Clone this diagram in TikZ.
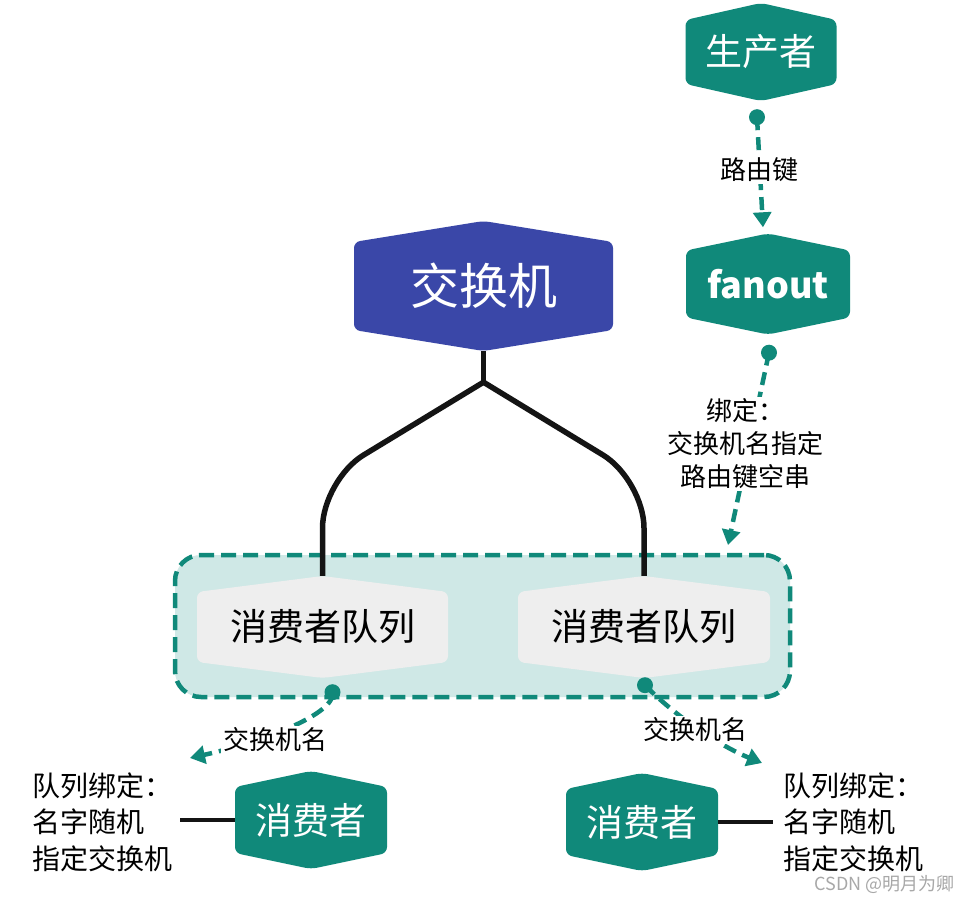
\documentclass[tikz,border=0pt]{standalone}
\usepackage{fontspec}
\setmainfont{Noto Sans CJK SC}
\usetikzlibrary{arrows.meta,calc}
\definecolor{tealc}{HTML}{10897A}
\definecolor{grpfill}{HTML}{CFE8E6}
\definecolor{qfill}{HTML}{EEEEEE}
\definecolor{exblue}{HTML}{3A47A8}
\definecolor{wmgray}{HTML}{A8A8A8}
\newcommand\hexfill[6]{%
  \fill[#6, rounded corners=6pt] ({#1-#3},{#2-#4}) -- (#1,{#2-#4-#5}) -- ({#1+#3},{#2-#4}) -- ({#1+#3},{#2+#4}) -- (#1,{#2+#4+#5}) -- ({#1-#3},{#2+#4}) -- cycle;}
\newcommand\hexnode[9]{%
  \hexfill{#2}{#3}{#4}{#5}{#6}{#7}%
  \node[#8, minimum width={2*#4}, minimum height={2*(#5+#6)}] (#1) at (#2,#3) {#9};}
\tikzset{
  hexlbl/.style={inner sep=0pt, text=white, font=\fontsize{37}{44}\selectfont},
  exlbl/.style={inner sep=0pt, text=white, font=\fontsize{49}{58}\selectfont},
  fanlbl/.style={inner sep=0pt, text=white, font=\bfseries\fontsize{36}{44}\selectfont},
  qlbl/.style={inner sep=0pt, text=black, font=\fontsize{37}{44}\selectfont},
  grpbox/.style={draw=tealc, fill=grpfill, line width=4.5pt, dash pattern=on 15pt off 7pt, rounded corners=26pt},
  dasharrow/.style={draw=tealc, line width=4.5pt, dash pattern=on 13pt off 7pt, -{Triangle[length=15pt,width=18pt]}},
  dotc/.style={fill=tealc},
  lbl/.style={fill=white, inner sep=2pt, text=black, font=\fontsize{26}{33}\selectfont, align=center},
  blackline/.style={draw=black!92, line width=5.5pt},
  sideline/.style={draw=black!92, line width=4.5pt},
  sidetxt/.style={inner sep=0pt, text=black, font=\fontsize{28}{36.5}\selectfont, align=left},
}
\begin{document}
\begin{tikzpicture}[x=1pt, y=-1pt]
\useasboundingbox (0,0) rectangle (970,901);
\fill[white] (0,0) rectangle (970,901);

% top nodes
\hexnode{prod}{761}{52}{75.5}{32}{17}{tealc}{hexlbl}{生产者}
\hexnode{fan}{768}{284}{82}{33.5}{17}{tealc}{fanlbl}{fanout}
\hexnode{exch}{483.5}{286}{129.5}{44}{21}{exblue}{exlbl}{交换机}

% group container
\node[grpbox, minimum width=615pt, minimum height=142pt] (grp) at (482.5,626) {};

% queues
\hexnode{q1}{322.5}{627}{125.5}{35}{16}{qfill}{qlbl}{消费者队列}
\hexnode{q2}{644}{627}{126}{35}{16}{qfill}{qlbl}{消费者队列}

% consumers
\hexnode{c1}{311}{820}{76}{33}{16}{tealc}{hexlbl}{消费者}
\hexnode{c2}{642}{822}{76}{33}{16}{tealc}{hexlbl}{消费者}

% exchange to queues
\coordinate (fork) at ($(exch.south)+(0,31)$);
\coordinate (bendL) at (322.5,480);
\coordinate (bendR) at (644,480);
\draw[blackline] (exch.south) -- (fork);
\draw[blackline, rounded corners=48pt] (fork) -- (bendL) -- (q1.north);
\draw[blackline, rounded corners=48pt] (fork) -- (bendR) -- (q2.north);

% producer -> fanout
\coordinate (d1) at ($(prod.south)+(-4,16)$);
\coordinate (t1) at ($(fan.north)+(-5,-6)$);
\draw[dasharrow] (d1) -- node[lbl, pos=0.48] (rk) {路由键} (t1);
\fill[dotc] (d1) circle (8pt);

% fanout -> group
\coordinate (d2) at ($(fan.south)+(1,18)$);
\coordinate (t2) at (728,545);
\draw[dasharrow] (d2) -- (t2);
\node[lbl] (bind) at (745,444) {绑定：\\交换机名指定\\路由键空串};
\fill[dotc] (d2) circle (8pt);

% queue1 -> left text
\coordinate (d3) at ($(q1.south)+(10,14)$);
\coordinate (t3) at (190,758);
\draw[dasharrow] (d3) .. controls (336,714) and (262,742) .. (t3);
\node[lbl] (en1) at (275,740) {交换机名};
\fill[dotc] (d3) circle (8pt);

% queue2 -> right text
\coordinate (d4) at ($(q2.south)+(1,7)$);
\coordinate (t4) at (762,763);
\draw[dasharrow] (d4) .. controls (675,716) and (720,746) .. (t4);
\node[lbl] (en2) at (695,730) {交换机名};
\fill[dotc] (d4) circle (8pt);

% side texts
\node[sidetxt, anchor=west] (s1) at (32,822) {队列绑定：\\名字随机\\指定交换机};
\node[sidetxt, anchor=west] (s2) at (783,822) {队列绑定：\\名字随机\\指定交换机};
\coordinate (e1) at (180,820);
\coordinate (e2) at (773,822);
\draw[sideline] (c1.west) -- (e1);
\draw[sideline] (c2.east) -- (e2);

% watermark
\node[anchor=east, inner sep=0pt, text=wmgray, font=\fontsize{18}{22}\selectfont] (wm) at (955,885) {CSDN @明月为卿};
\end{tikzpicture}
\end{document}
